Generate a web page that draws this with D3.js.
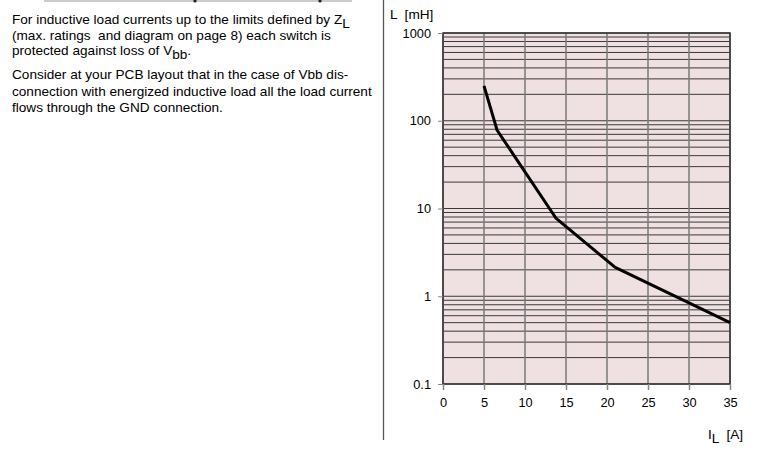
<!DOCTYPE html>
<html>
<head>
<meta charset="utf-8">
<script src="https://cdn.jsdelivr.net/npm/d3@7"></script>
<style>
  html, body { margin: 0; padding: 0; background: #fff; }
  svg { display: block; font-family: "Liberation Sans", Arial, sans-serif; }
  svg text { white-space: pre; }
</style>
</head>
<body>
<svg id="chart"></svg>
<script>
document.addEventListener('DOMContentLoaded', () => {
    const W = 758, H = 453;

    // data (I_L in A, L in mH)
    const currentA = [5, 6.6, 13.8, 21, 35];
    const inductanceMH = [250, 78, 7.7, 2.13, 0.5];
    const xTicks = [0, 5, 10, 15, 20, 25, 30, 35];
    const yTicks = [0.1, 1, 10, 100, 1000];
    const yTickLabels = ["0.1", "1", "10", "100", "1000"];

    const svg = d3.select("#chart").attr("width", W).attr("height", H);

    const x = d3.scaleLinear().domain([0, 35]).range([443, 730]);
    const y = d3.scaleLog().domain([0.1, 1000]).range([384, 33]);

    // left-hand text block
    const para = svg.append("g").style("font-size", "13.6px").attr("fill", "#000");
    const line1 = para.append("text").attr("x", 12).attr("y", 24);
    line1.append("tspan").text("For inductive load currents up to the limits defined by Z");
    line1.append("tspan").attr("dy", 4).text("L");
    para.append("text").attr("x", 12).attr("y", 39.5).text("(max. ratings  and diagram on page 8) each switch is");
    const line3 = para.append("text").attr("x", 12).attr("y", 55);
    line3.append("tspan").text("protected against loss of V");
    line3.append("tspan").attr("dy", 4).text("bb");
    line3.append("tspan").attr("dy", -4).text(".");
    para.append("text").attr("x", 12).attr("y", 79).text("Consider at your PCB layout that in the case of Vbb dis-");
    para.append("text").attr("x", 12).attr("y", 95.5).text("connection with energized inductive load all the load current");
    para.append("text").attr("x", 12).attr("y", 112).text("flows through the GND connection.");

    // page decorations: top rule and separator
    svg.append("line").attr("x1", 44).attr("x2", 352).attr("y1", 1).attr("y2", 1)
        .style("stroke", "#999").style("stroke-width", 1.2);
    svg.selectAll(".dot").data([195, 320]).enter().append("circle")
        .attr("cx", d => d).attr("cy", 1).attr("r", 1.6).style("fill", "#222");
    svg.append("line").attr("x1", 383.5).attr("x2", 383.5).attr("y1", 0).attr("y2", 440)
        .style("stroke", "#555").style("stroke-width", 1.3);

    // plot background
    svg.append("rect")
        .attr("x", x(0)).attr("y", y(1000))
        .attr("width", x(35) - x(0)).attr("height", y(0.1) - y(1000))
        .style("fill", "#efe0e1");

    // horizontal log grid
    const minor = [];
    yTicks.slice(0, -1).forEach(d => {
        for (let k = 1; k < 10; k++) minor.push(d * k);
    });
    minor.push(1000);
    svg.append("g").selectAll("line").data(minor).enter().append("line")
        .attr("x1", x(0)).attr("x2", x(35))
        .attr("y1", d => y(d)).attr("y2", d => y(d))
        .style("stroke", "#3a3a3a").style("stroke-width", 1);

    // vertical grid
    svg.append("g").selectAll("line").data(xTicks).enter().append("line")
        .attr("x1", d => x(d)).attr("x2", d => x(d))
        .attr("y1", y(1000)).attr("y2", y(0.1))
        .style("stroke", "#7a7a7a").style("stroke-width", 1.5);

    // frame
    svg.append("rect")
        .attr("x", x(0)).attr("y", y(1000))
        .attr("width", x(35) - x(0)).attr("height", y(0.1) - y(1000))
        .style("fill", "none").style("stroke", "#333").style("stroke-width", 1.5);

    // x axis
    const xAxis = svg.append("g").attr("transform", `translate(0,${y(0.1)})`)
        .call(d3.axisBottom(x).tickValues(xTicks).tickSize(6).tickPadding(8));
    xAxis.select(".domain").remove();
    xAxis.selectAll(".tick line").style("stroke", "#888").style("stroke-width", 1.5);
    xAxis.selectAll(".tick text").style("font-size", "12.8px").style("font-family", "Liberation Sans, Arial, sans-serif").attr("fill", "#000");

    // y axis
    const yAxis = svg.append("g").attr("transform", `translate(${x(0)},0)`)
        .call(d3.axisLeft(y).tickValues(yTicks).tickFormat((d, i) => yTickLabels[i]).tickSize(5).tickPadding(7));
    yAxis.select(".domain").remove();
    yAxis.selectAll(".tick line").style("stroke", "#888").style("stroke-width", 1);
    yAxis.selectAll(".tick text").style("font-size", "12.8px").style("font-family", "Liberation Sans, Arial, sans-serif").attr("fill", "#000");

    // axis titles
    svg.append("text").attr("x", 390).attr("y", 19).style("font-size", "13.6px").text("L  [mH]");
    const xt = svg.append("text").attr("x", 708).attr("y", 439).style("font-size", "13.6px");
    xt.append("tspan").text("I");
    xt.append("tspan").attr("dy", 4).text("L");
    xt.append("tspan").attr("dy", -4).text("  [A]");

    // curve
    const pts = currentA.map((c, i) => [c, inductanceMH[i]]);
    svg.append("path")
        .datum(pts)
        .attr("d", d3.line().x(d => x(d[0])).y(d => y(d[1])))
        .style("fill", "none").style("stroke", "#000").style("stroke-width", 3)
        .style("stroke-linejoin", "round");
});
</script>
</body>
</html>
